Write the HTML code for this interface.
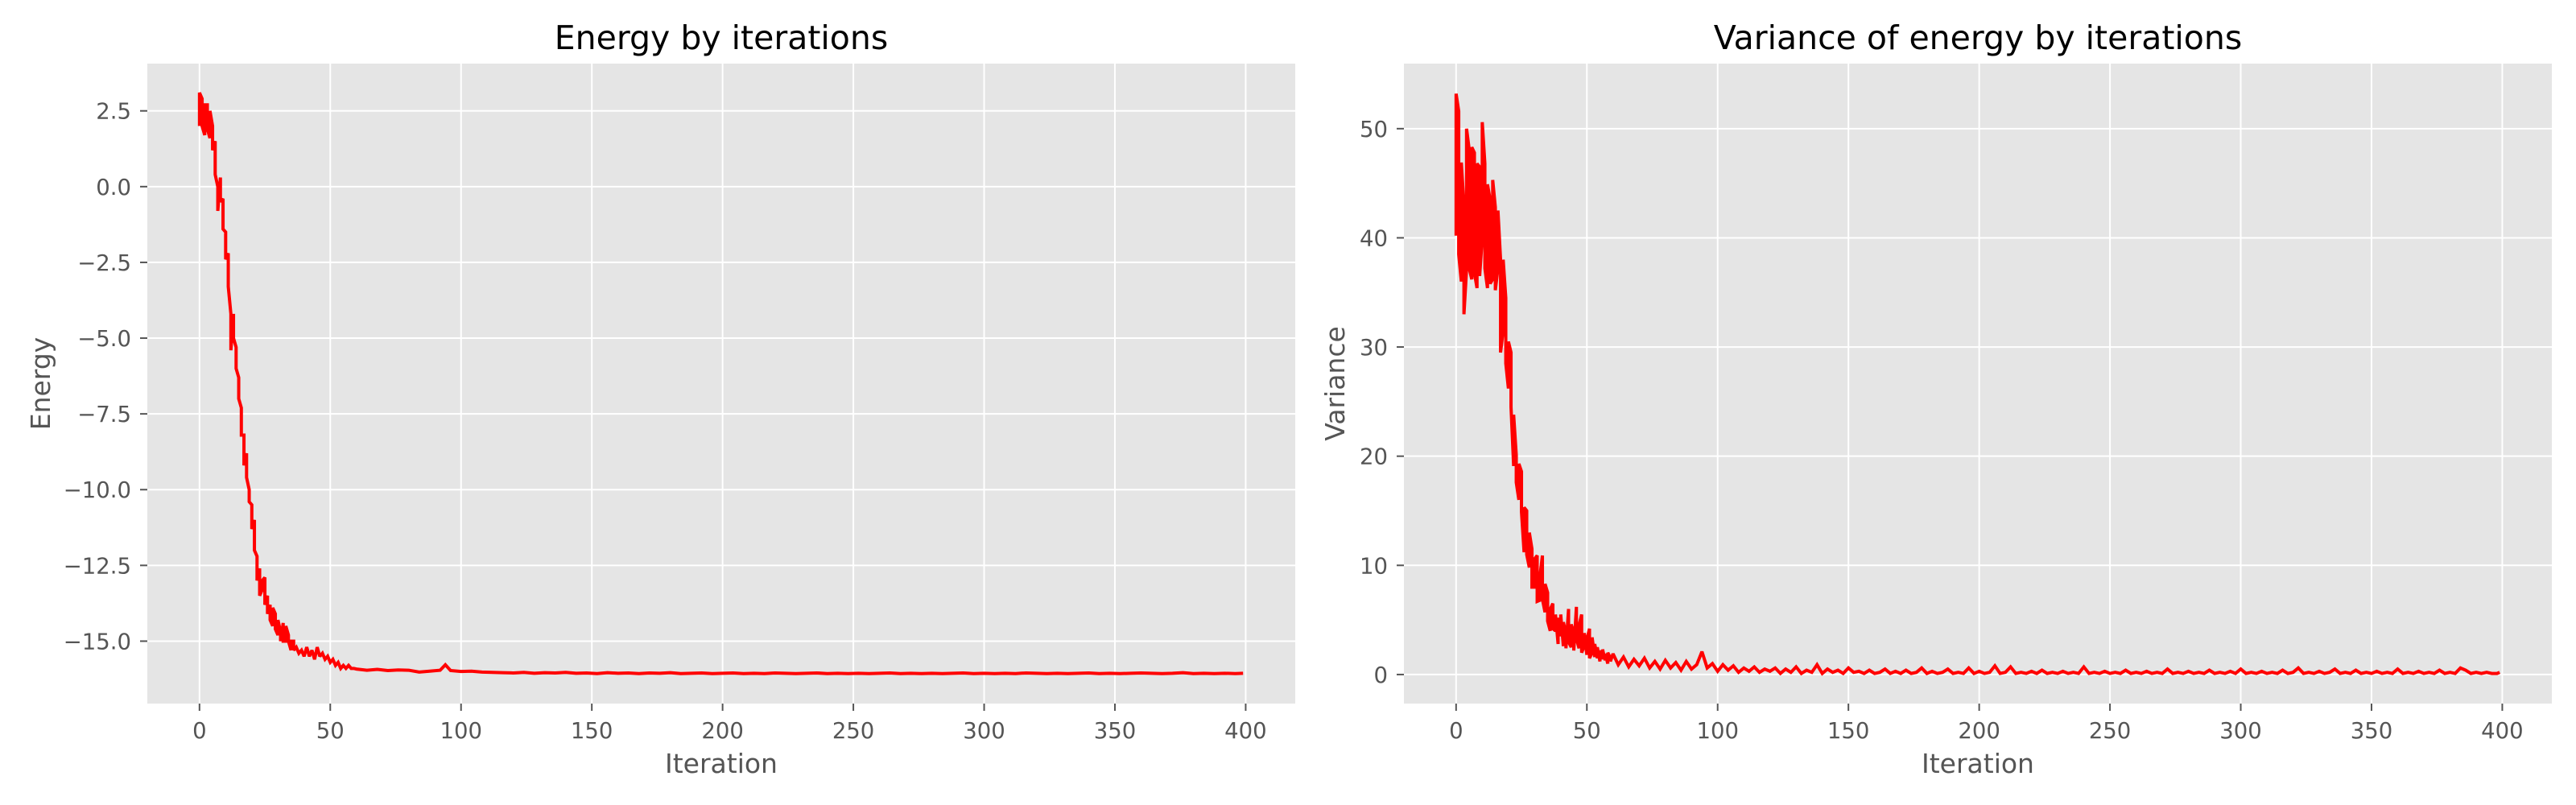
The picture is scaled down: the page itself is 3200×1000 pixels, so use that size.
<!DOCTYPE html>
<html><head><meta charset="utf-8">
<style>
html,body{margin:0;padding:0;background:#fff;}
svg{display:block;font-family:"DejaVu Sans","Liberation Sans",sans-serif;}
</style></head>
<body>
<svg id="fig" width="3200" height="1000" viewBox="0 0 3200 1000" xmlns="http://www.w3.org/2000/svg">
<rect x="0" y="0" width="3200" height="1000" fill="#fff"/>
</svg>
<script>
// ---- data ----
const xTicks = [0, 50, 100, 150, 200, 250, 300, 350, 400];
const energyTicks = [2.5, 0.0, -2.5, -5.0, -7.5, -10.0, -12.5, -15.0];
const energyTickLabels = ["2.5", "0.0", "\u22122.5", "\u22125.0", "\u22127.5", "\u221210.0", "\u221212.5", "\u221215.0"];
const varTicks = [0, 10, 20, 30, 40, 50];
const varTickLabels = ["0", "10", "20", "30", "40", "50"];

// early iterations (two samples per iteration to capture jitter)
const energyEarlyIter = [0,0,1,1,2,2,3,3,4,4,5,5,6,6,7,7,8,8,9,9,10,10,11,11,12,12,13,13,14,14,15,15,16,16,17,17,18,18,19,19,20,20,21,21,22,22,23,23,24,24,25,25,26,26,27,27,28,28,29,29,30,30,31,31,32,32,33,33,34,34,35,35,36,36];
const energyEarly = [2.0,3.1,2.9,2.0,1.7,2.7,2.7,1.9,1.6,2.5,2.0,1.2,1.5,0.4,0.0,-0.8,0.3,-0.5,-0.4,-1.4,-1.5,-2.4,-2.2,-3.3,-4.2,-5.4,-4.2,-5.0,-5.3,-6.0,-6.3,-7.0,-7.3,-8.2,-8.2,-9.2,-8.8,-9.6,-10.0,-10.4,-10.5,-11.3,-11.0,-12.0,-12.2,-13.0,-12.6,-13.5,-13.3,-13.0,-12.9,-13.8,-13.5,-14.1,-13.8,-14.3,-14.5,-13.9,-14.1,-14.6,-14.8,-14.3,-14.7,-15.0,-14.4,-15.0,-15.0,-14.5,-14.8,-15.0,-15.3,-15.0,-15.0,-15.3];
const energyMidIter = [37,38,39,40,41,42,43,44,45,46,47,48,49,50,51,52,53,54,55,56,57,58,59];
const energyMid = [-15.2,-15.4,-15.3,-15.5,-15.2,-15.5,-15.3,-15.6,-15.2,-15.5,-15.4,-15.6,-15.5,-15.7,-15.6,-15.8,-15.7,-15.9,-15.8,-15.9,-15.8,-15.9,-15.9];
const energyTailIter = [60,64,68,72,76,80,84,88,92,94,96,100,104,108,112,116,120,124,128,132,136,140,144,148,152,156,160,164,168,172,176,180,184,188,192,196,200,204,208,212,216,220,224,228,232,236,240,244,248,252,256,260,264,268,272,276,280,284,288,292,296,300,304,308,312,316,320,324,328,332,336,340,344,348,352,356,360,364,368,372,376,380,384,388,392,396,399];
const energyTail = [-15.92,-15.96,-15.93,-15.97,-15.95,-15.96,-16.02,-15.99,-15.96,-15.78,-15.97,-16.0,-15.99,-16.02,-16.03,-16.04,-16.05,-16.03,-16.06,-16.04,-16.05,-16.03,-16.06,-16.05,-16.07,-16.04,-16.06,-16.05,-16.07,-16.05,-16.06,-16.04,-16.07,-16.06,-16.05,-16.07,-16.06,-16.05,-16.07,-16.06,-16.07,-16.05,-16.06,-16.07,-16.06,-16.05,-16.07,-16.06,-16.07,-16.06,-16.07,-16.06,-16.05,-16.07,-16.06,-16.07,-16.06,-16.07,-16.06,-16.05,-16.07,-16.06,-16.07,-16.06,-16.07,-16.05,-16.06,-16.07,-16.06,-16.07,-16.06,-16.05,-16.07,-16.06,-16.07,-16.06,-16.05,-16.06,-16.07,-16.06,-16.04,-16.07,-16.06,-16.07,-16.06,-16.07,-16.06];

const varEarlyIter = [0,0,1,1,2,2,3,3,4,4,5,5,6,6,7,7,8,8,9,9,10,10,11,11,12,12,13,13,14,14,15,15,16,16,17,17,18,18,19,19,20,20,21,21,22,22,23,23,24,24,25,25,26,26,27,27,28,28,29,29,30,30,31,31,32,32,33,33,34,34,35,35,36,36,37,37,38,38,39,39,40,40,41,41,42,42,43,43,44,44,45,45,46,46,47,47,48,48,49,49,50,50,51,51,52,52,53,53,54,54,55,55,56,56,57,57,58,58,59,59];
const varEarly = [40.2,53.2,51.6,38.5,36.0,46.9,43.0,33.0,37.1,50.0,48.1,37.2,36.2,48.3,47.8,36.8,35.4,46.8,46.5,36.5,40.0,50.6,46.8,37.2,35.4,44.9,43.5,35.8,36.2,45.3,42.8,35.2,37.2,42.5,38.0,29.5,31.5,38.0,34.5,28.5,26.2,30.5,29.5,24.5,19.1,23.8,20.1,17.6,16.0,19.3,18.6,14.9,11.2,15.3,15.0,11.0,9.8,13.0,11.5,8.0,8.0,10.6,10.9,6.7,6.8,8.9,10.9,6.9,5.7,8.3,7.5,4.9,4.0,6.0,6.5,4.2,4.0,5.5,2.8,5.2,3.5,5.5,2.6,4.8,3.8,2.4,6.0,3.0,2.5,4.6,3.8,2.2,6.2,3.3,2.4,4.5,5.5,2.0,2.6,3.8,1.8,3.2,4.2,1.5,2.0,3.4,1.6,2.8,1.5,2.5,1.2,2.2,1.4,2.3,1.3,1.9,1.0,2.0,1.5,1.2];
const varTailIter = [60,62,64,66,68,70,72,74,76,78,80,82,84,86,88,90,92,94,96,98,100,102,104,106,108,110,112,114,116,118,120,122,124,126,128,130,132,134,136,138,140,142,144,146,148,150,152,154,156,158,160,162,164,166,168,170,172,174,176,178,180,182,184,186,188,190,192,194,196,198,200,202,204,206,208,210,212,214,216,218,220,222,224,226,228,230,232,234,236,238,240,242,244,246,248,250,252,254,256,258,260,262,264,266,268,270,272,274,276,278,280,282,284,286,288,290,292,294,296,298,300,302,304,306,308,310,312,314,316,318,320,322,324,326,328,330,332,334,336,338,340,342,344,346,348,350,352,354,356,358,360,362,364,366,368,370,372,374,376,378,380,382,384,386,388,390,392,394,396,398,399];
const varTail = [1.9,0.9,1.6,0.7,1.4,0.8,1.5,0.6,1.2,0.5,1.3,0.6,1.1,0.4,1.2,0.5,0.9,2.1,0.6,1.0,0.3,0.9,0.4,0.8,0.2,0.6,0.3,0.7,0.2,0.5,0.3,0.6,0.1,0.5,0.2,0.7,0.1,0.4,0.2,0.9,0.1,0.5,0.2,0.4,0.1,0.6,0.2,0.3,0.1,0.4,0.1,0.2,0.5,0.1,0.3,0.1,0.4,0.1,0.2,0.6,0.1,0.3,0.1,0.2,0.5,0.1,0.2,0.1,0.6,0.1,0.3,0.1,0.2,0.8,0.1,0.2,0.7,0.1,0.2,0.1,0.3,0.1,0.4,0.1,0.2,0.1,0.3,0.1,0.2,0.1,0.7,0.1,0.2,0.1,0.3,0.1,0.2,0.1,0.4,0.1,0.2,0.1,0.3,0.1,0.2,0.1,0.5,0.1,0.2,0.1,0.3,0.1,0.2,0.1,0.4,0.1,0.2,0.1,0.3,0.1,0.5,0.1,0.2,0.1,0.3,0.1,0.2,0.1,0.4,0.1,0.2,0.6,0.1,0.2,0.1,0.3,0.1,0.2,0.5,0.1,0.2,0.1,0.4,0.1,0.2,0.1,0.3,0.1,0.2,0.1,0.5,0.1,0.2,0.1,0.3,0.1,0.2,0.1,0.4,0.1,0.2,0.1,0.6,0.4,0.1,0.2,0.1,0.2,0.1,0.1,0.2];

// ---- drawing ----
const NS = "http://www.w3.org/2000/svg";
const svg = document.getElementById("fig");
function mk(tag, attrs, parent) {
  const e = document.createElementNS(NS, tag);
  for (const k in attrs) e.setAttribute(k, attrs[k]);
  (parent || svg).appendChild(e);
  return e;
}
function drawPanel(opt) {
  const g = mk("g", {});
  
  
  const L = opt.left, R = opt.left + 1426, T = 79, B = 874;
  const xs = v => L + (v - (-19.95)) / (418.95 - (-19.95)) * (R - L);
  const ys = v => B - (v - opt.ymin) / (opt.ymax - opt.ymin) * (B - T);
  const bg = mk("rect", {x: L, y: T, width: R - L, height: B - T, fill: "#e5e5e5"}, g);
  
  
  xTicks.forEach(t => {
    const x = xs(t);
    const gl = mk("line", {x1: x, x2: x, y1: T, y2: B, stroke: "#fff", "stroke-width": 2}, g);
    
    
    mk("line", {x1: x, x2: x, y1: B, y2: B + 9, stroke: "#555", "stroke-width": 2}, g);
    const tx = mk("text", {x: x, y: 917, "text-anchor": "middle", "font-size": 27.5, fill: "#555"}, g);
    tx.textContent = String(t);
    
    
  });
  opt.yticks.forEach((t, i) => {
    const y = ys(t);
    const gl = mk("line", {x1: L, x2: R, y1: y, y2: y, stroke: "#fff", "stroke-width": 2}, g);
    
    
    mk("line", {x1: L - 9, x2: L, y1: y, y2: y, stroke: "#555", "stroke-width": 2}, g);
    const tx = mk("text", {x: L - 20, y: y + 10, "text-anchor": "end", "font-size": 27.5, fill: "#555"}, g);
    tx.textContent = opt.ylabels[i];
    
    
  });
  let d = "";
  opt.series.forEach(([xa, ya]) => {
    xa.forEach((xv, i) => {
      d += (d === "" ? "M" : "L") + xs(xv).toFixed(2) + "," + ys(ya[i]).toFixed(2);
    });
  });
  const p = mk("path", {d: d, fill: "none", stroke: "#ff0000", "stroke-width": 4, "stroke-linejoin": "miter", "stroke-miterlimit": 2}, g);
  
  
  const title = mk("text", {x: (L + R) / 2, y: 61, "text-anchor": "middle", "font-size": 41, fill: "#000"}, g);
  title.textContent = opt.title;
  
  
  const xl = mk("text", {x: (L + R) / 2, y: 960, "text-anchor": "middle", "font-size": 33, fill: "#555"}, g);
  xl.textContent = "Iteration";
  
  
  const yx = opt.ylabelX, yy = (T + B) / 2;
  const yl = mk("text", {x: yx, y: yy, "text-anchor": "middle", "font-size": 33, fill: "#555", transform: "rotate(-90 " + yx + " " + yy + ")"}, g);
  yl.textContent = opt.ylabel;
  
  
}
drawPanel({name: "energy-chart", left: 183, ymin: -17.06, ymax: 4.06, yticks: energyTicks, ylabels: energyTickLabels,
  series: [[energyEarlyIter, energyEarly], [energyMidIter, energyMid], [energyTailIter, energyTail]],
  lineName: "energy-line", title: "Energy by iterations", ylabel: "Energy", ylabelX: 62});
drawPanel({name: "variance-chart", left: 1744, ymin: -2.66, ymax: 55.96, yticks: varTicks, ylabels: varTickLabels,
  series: [[varEarlyIter, varEarly], [varTailIter, varTail]],
  lineName: "variance-line", title: "Variance of energy by iterations", ylabel: "Variance", ylabelX: 1670});
</script>
</body></html>
